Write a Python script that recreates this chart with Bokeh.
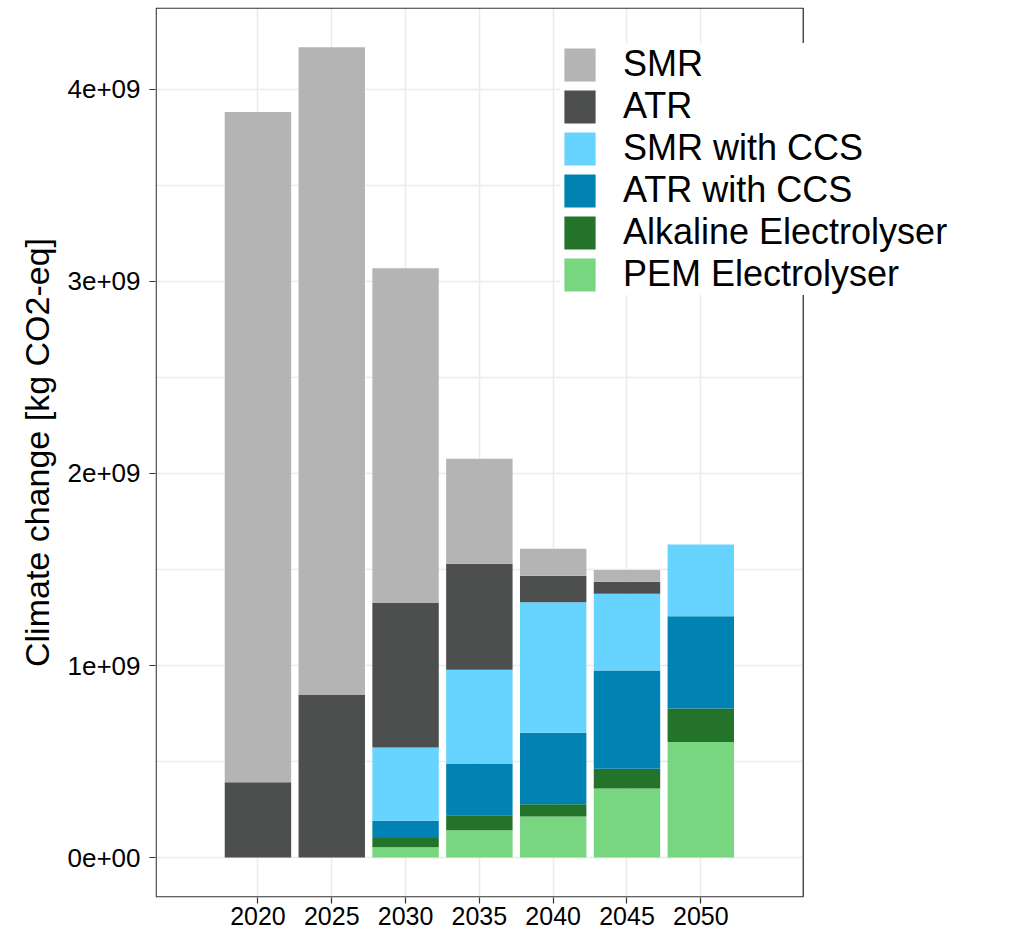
from bokeh.plotting import figure
from bokeh.models import (Range1d, FixedTicker, Legend, LegendItem, ColumnDataSource,
                          BoxAnnotation)
from bokeh.embed import file_html
from bokeh.resources import INLINE

# ---- data (kg CO2-eq), stacked segment values ----
years = [2020, 2025, 2030, 2035, 2040, 2045, 2050]
pem_electrolyser = [0.0, 0.0, 0.054e9, 0.142e9, 0.214e9, 0.359e9, 0.601e9]
alkaline_electrolyser = [0.0, 0.0, 0.047e9, 0.078e9, 0.064e9, 0.103e9, 0.175e9]
atr_with_ccs = [0.0, 0.0, 0.090e9, 0.270e9, 0.372e9, 0.512e9, 0.481e9]
smr_with_ccs = [0.0, 0.0, 0.382e9, 0.488e9, 0.679e9, 0.400e9, 0.373e9]
atr = [0.392e9, 0.847e9, 0.752e9, 0.552e9, 0.139e9, 0.062e9, 0.0]
smr = [3.491e9, 3.373e9, 1.744e9, 0.547e9, 0.140e9, 0.061e9, 0.0]

series_names = ["PEM Electrolyser", "Alkaline Electrolyser", "ATR with CCS",
                "SMR with CCS", "ATR", "SMR"]
series_keys = ["pem", "alk", "atrccs", "smrccs", "atr", "smr"]
series_colors = ["#77d67f", "#23742a", "#0083b3", "#66d4ff", "#4d4f4e", "#b3b4b3"]

y_tick_values = [0, 1e9, 2e9, 3e9, 4e9]
y_tick_labels = ["0e+00", "1e+09", "2e+09", "3e+09", "4e+09"]
y_minor_values = [0.5e9, 1.5e9, 2.5e9, 3.5e9]

# panel limits of the plotting area; the frame extends further right
# so that the legend can overhang the panel border as in the original
panel_x_start, panel_x_end = 2013.06, 2056.94
frame_x_end = 2070.98
y_start, y_end = -0.2083e9, 4.427e9

source = ColumnDataSource(dict(
    year=years, pem=pem_electrolyser, alk=alkaline_electrolyser,
    atrccs=atr_with_ccs, smrccs=smr_with_ccs, atr=atr, smr=smr,
))

FONT = "Liberation Sans"

p = figure(width=1010, height=936, output_backend="svg", toolbar_location=None,
           x_range=Range1d(panel_x_start, frame_x_end),
           y_range=Range1d(y_start, y_end),
           min_border_left=155, min_border_right=0, min_border_top=7,
           min_border_bottom=39)

renderers = p.vbar_stack(series_keys, x="year", width=4.5, source=source,
                         color=series_colors, line_color=None)

# axes
p.xaxis.ticker = FixedTicker(ticks=years, minor_ticks=[])
p.yaxis.ticker = FixedTicker(ticks=y_tick_values, minor_ticks=y_minor_values)
p.yaxis.major_label_overrides = {v: l for v, l in zip(y_tick_values, y_tick_labels)}
p.yaxis.axis_label = "Climate change [kg CO2-eq]"

for ax in (p.xaxis[0], p.yaxis[0]):
    ax.axis_line_color = None
    ax.major_tick_line_color = "#333333"
    ax.major_tick_line_width = 1.2
    ax.major_tick_out = 6
    ax.major_tick_in = 0
    ax.minor_tick_line_color = None
    ax.major_label_text_font = FONT
    ax.major_label_text_color = "black"

p.xaxis.major_label_text_font_size = "25px"
p.xaxis.major_label_standoff = 3
p.yaxis.major_label_text_font_size = "26px"
p.yaxis.major_label_standoff = 9
p.yaxis.axis_label_text_font = FONT
p.yaxis.axis_label_text_font_size = "34px"
p.yaxis.axis_label_text_font_style = "normal"
p.yaxis.axis_label_text_color = "black"
p.yaxis.axis_label_standoff = 8

# grid
p.xgrid.grid_line_color = "#ebebeb"
p.xgrid.grid_line_width = 1.6
p.ygrid.grid_line_color = "#ebebeb"
p.ygrid.grid_line_width = 1.6
p.ygrid.minor_grid_line_color = "#ebebeb"
p.ygrid.minor_grid_line_width = 1.4

p.outline_line_color = None
p.background_fill_color = "white"
p.border_fill_color = "white"

# blank out the frame beyond the panel, then draw the panel border
cover = BoxAnnotation(left=panel_x_end, fill_color="white", fill_alpha=1.0,
                      line_color=None)
p.add_layout(cover)
px_x = (frame_x_end - panel_x_start) / 855.0
px_y = (y_end - y_start) / 890.0
border = BoxAnnotation(left=panel_x_start + 0.65 * px_x, right=panel_x_end,
                       top=y_end - 0.65 * px_y, bottom=y_start + 0.65 * px_y,
                       fill_alpha=0.0, fill_color=None,
                       line_color="#333333", line_alpha=1.0, line_width=1.3)
p.add_layout(border)

# legend (top series first)
items = [LegendItem(label=name, renderers=[r])
         for name, r in zip(series_names, renderers)][::-1]
legend = Legend(items=items, location=(405, 602))
legend.label_text_font = FONT
legend.label_text_font_size = "36px"
legend.label_text_color = "black"
legend.glyph_width = 39
legend.glyph_height = 41
legend.label_height = 34
legend.label_standoff = 24
legend.spacing = 0
legend.padding = 6
legend.border_line_color = None
legend.background_fill_color = "white"
legend.background_fill_alpha = 1.0
p.add_layout(legend, "center")

open("out.html", "w").write(file_html(p, INLINE))
